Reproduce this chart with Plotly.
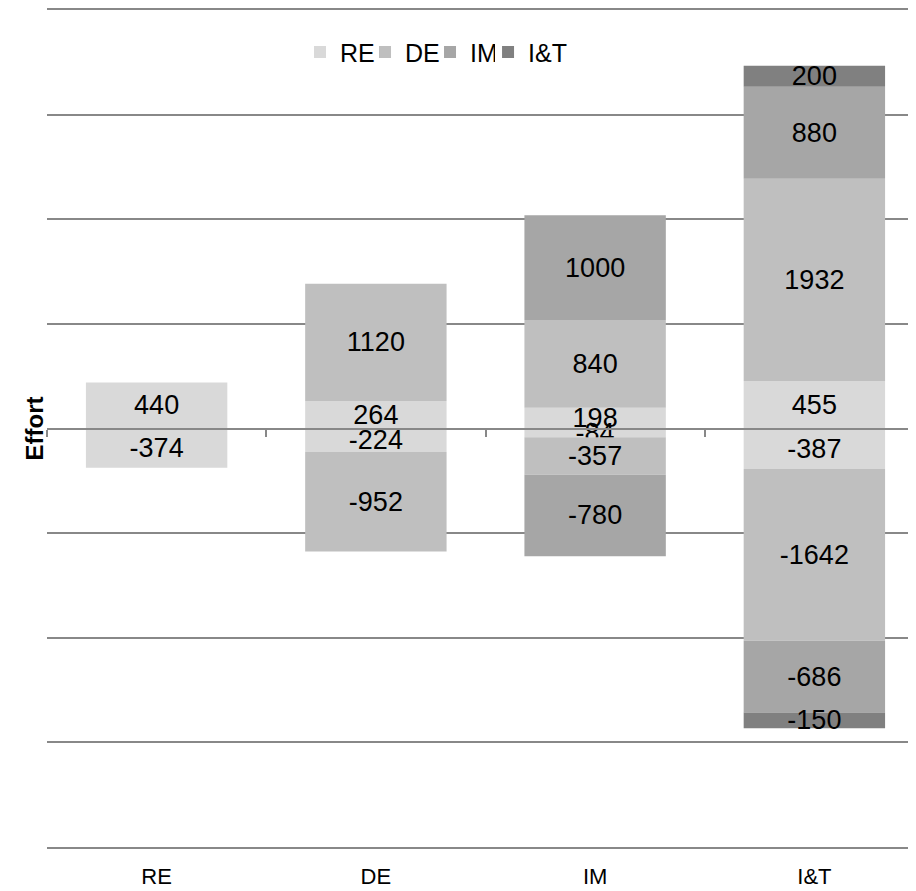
import plotly.graph_objects as go

categories = ["RE", "DE", "IM", "I&T"]
series_names = ["RE", "DE", "IM", "I&T"]
series_colors = ["#d9d9d9", "#bfbfbf", "#a6a6a6", "#808080"]
series_legends = ["legend", "legend", "legend", "legend2"]

re_pos = [440, 264, 198, 455]
re_neg = [-374, -224, -84, -387]
de_pos = [None, 1120, 840, 1932]
de_neg = [None, -952, -357, -1642]
im_pos = [None, None, 1000, 880]
im_neg = [None, None, -780, -686]
it_pos = [None, None, None, 200]
it_neg = [None, None, None, -150]

positives = [re_pos, de_pos, im_pos, it_pos]
negatives = [re_neg, de_neg, im_neg, it_neg]

FONT = "Liberation Sans, Arial, sans-serif"
GRID = "#888888"

fig = go.Figure()
for name, color, lg, pos, neg in zip(series_names, series_colors, series_legends, positives, negatives):
    for vals, show in ((pos, True), (neg, False)):
        fig.add_trace(go.Bar(
            x=categories, y=vals, name=name, legendgroup=name, showlegend=show,
            legend=lg,
            marker=dict(color=color, line=dict(width=0)),
            width=0.645,
            text=[("" if v is None else str(v)) for v in vals],
            textposition="inside", insidetextanchor="middle",
            constraintext="none", cliponaxis=False,
            textfont=dict(family=FONT, size=27, color="black"),
            hoverinfo="skip",
        ))

# invisible trace to host the zero-line axis
fig.add_trace(go.Scatter(x=[], y=[], xaxis="x2", yaxis="y", showlegend=False, hoverinfo="skip"))

xr = [-0.5, 3.5]
legend_common = dict(
    orientation="h", y=0.9495, yanchor="middle", xanchor="left",
    font=dict(family=FONT, size=25), bgcolor="rgba(0,0,0,0)",
    traceorder="normal",
)
fig.update_layout(
    width=916, height=891,
    barmode="relative",
    plot_bgcolor="white", paper_bgcolor="white",
    margin=dict(l=39, r=0, t=2, b=52, autoexpand=False),
    font=dict(family=FONT, size=24, color="black"),
    xaxis=dict(
        type="category", range=xr, showgrid=False, zeroline=False,
        showline=True, mirror=True, linecolor=GRID, linewidth=2,
        ticks="", tickfont=dict(family=FONT, size=22),
        ticklabelstandoff=9, automargin=False,
    ),
    xaxis2=dict(
        overlaying="x", anchor="free", position=0.5, side="bottom", range=xr,
        type="linear", showgrid=False, zeroline=False, showline=True,
        linecolor=GRID, linewidth=2, ticks="outside", ticklen=7, tickwidth=2,
        tickcolor=GRID, tickvals=[-0.5, 0.5, 1.5, 2.5, 3.5], showticklabels=False,
        layer="above traces", automargin=False,
    ),
    yaxis=dict(
        range=[-4000, 4000], dtick=1000, showgrid=True, gridcolor=GRID, gridwidth=2,
        zeroline=False, showline=False, showticklabels=False, ticks="",
        automargin=False,
    ),
    legend=dict(x=0.2885, entrywidth=20, **legend_common),
    legend2=dict(x=0.5029, **legend_common),
    annotations=[dict(
        text="<b>Effort</b>", xref="paper", yref="paper", x=-0.0137, y=0.5,
        xanchor="center", yanchor="middle", textangle=-90, showarrow=False,
        font=dict(family=FONT, size=24, color="black"),
    )],
)

fig.write_html("out.html")
